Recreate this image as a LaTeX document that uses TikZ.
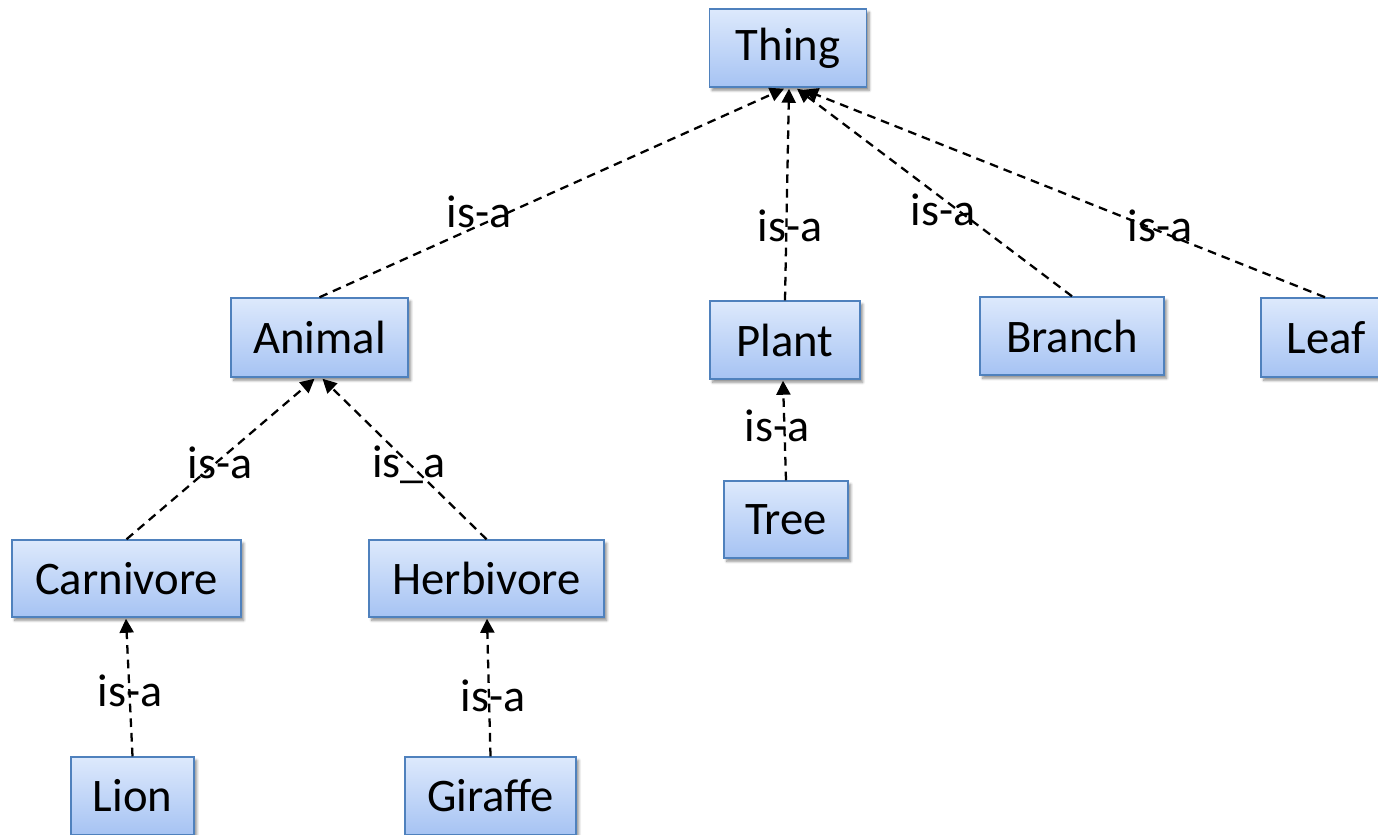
\documentclass[tikz,border=0pt]{standalone}
\usepackage{fontspec}
\setmainfont{Carlito}
\usetikzlibrary{arrows.meta,shadows.blur,calc}
\definecolor{boxborder}{HTML}{4F81BD}
\definecolor{boxtop}{HTML}{DDE9FC}
\definecolor{boxbottom}{HTML}{A6C3F3}
\begin{document}
\begin{tikzpicture}[x=0.75pt,y=-0.75pt,
  cls/.style={draw=boxborder, line width=1.1pt, top color=boxtop, bottom color=boxbottom,
    blur shadow={shadow xshift=2pt, shadow yshift=-2.5pt, shadow blur steps=6, shadow opacity=45},
    font=\fontsize{35}{40}\selectfont, inner sep=0pt, anchor=center},
  sz/.style 2 args={minimum width=#1*0.75pt, minimum height=#2*0.75pt},
  isa/.style={draw, line width=1.7pt, dash pattern=on 6.5pt off 4.5pt,
    -{Triangle[length=10.5pt,width=10.5pt]}},
  lbl/.style={font=\fontsize{34.5}{40}\selectfont, inner sep=0pt}]
\useasboundingbox (0,0) rectangle (1378,835);

% class boxes
\node[cls, sz={157}{78}] (thing)   at (788,48)      {Thing};
\node[cls, sz={177}{79}] (animal)  at (319.5,337.5) {Animal};
\node[cls, sz={150}{78}] (plant)   at (785,340)     {Plant};
\node[cls, sz={184}{78}] (branch)  at (1072,336)    {Branch};
\node[cls, sz={130}{79}] (leaf)    at (1326,337.5)  {Leaf};
\node[cls, sz={229}{77}] (carn)    at (126.5,578.5) {Carnivore};
\node[cls, sz={235}{77}] (herb)    at (486.5,578.5) {Herbivore};
\node[cls, sz={124}{77}] (tree)    at (786,519.5)   {Tree};
\node[cls, sz={123}{78}] (lion)    at (132.5,796)   {Lion};
\node[cls, sz={171}{78}] (giraffe) at (490.5,796)   {Giraffe};

% is-a links, child to parent
\draw[isa] (animal.north) -- ($(thing.south)+(-4,1)$);
\draw[isa] (plant.north) -- ($(thing.south)+(1,1)$);
\draw[isa] (branch.north) -- ($(thing.south)+(9,1)$);
\draw[isa] ($(leaf.north)+(-1,0)$) -- ($(thing.south)+(16,2)$);
\draw[isa] (carn.north) -- ($(animal.south)+(-5,1)$);
\draw[isa] (herb.north) -- ($(animal.south)+(3,1)$);
\draw[isa] (tree.north) -- ($(plant.south)+(-2,1)$);
\draw[isa] (lion.north) -- ($(carn.south)+(-0.5,1)$);
\draw[isa] (giraffe.north) -- ($(herb.south)+(0.5,1)$);

% link labels
\node[lbl] (l1) at (479,212) {is-a};
\node[lbl] (l2) at (790,226) {is-a};
\node[lbl] (l3) at (943,210) {is-a};
\node[lbl] (l4) at (1160,226) {is-a};
\node[lbl] (l5) at (220,463) {is-a};
\node[lbl] (l6) at (409,465) {is\_a};
\node[lbl] (l7) at (777,426) {is-a};
\node[lbl] (l8) at (130,691) {is-a};
\node[lbl] (l9) at (493,696) {is-a};
\end{tikzpicture}
\end{document}
